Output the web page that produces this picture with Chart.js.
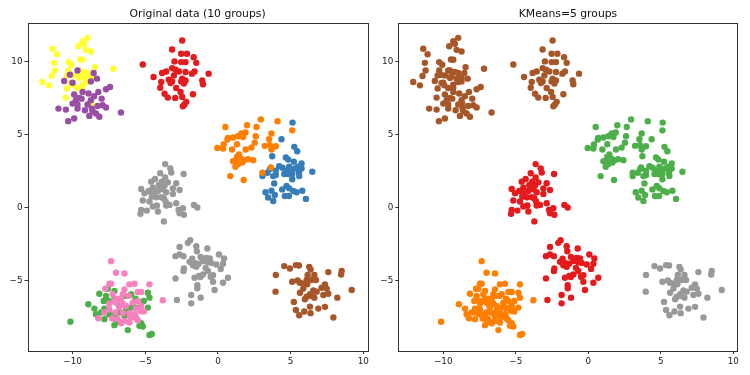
<!DOCTYPE html>
<html lang="en">
<head>
<meta charset="UTF-8">
<title>Original data vs KMeans=5</title>
<script src="https://cdn.jsdelivr.net/npm/chart.js@4.4.1/dist/chart.umd.min.js"></script>
<style>
  body { margin: 0; background: #fff; }
  #wrap { position: relative; width: 750px; height: 375px; }
  canvas { position: absolute; top: 0; }
</style>
</head>
<body>
<div id="wrap">
  <canvas id="left" width="375" height="375" style="left:0"></canvas>
  <canvas id="right" width="375" height="375" style="left:375px"></canvas>
</div>
<script>
// points, one array per original group: [x, y]
const groupYellow = [
  [-8.97, 11.63], [-9.31, 11.40], [-9.20, 11.22], [-9.59, 11.06], [-9.08, 10.81], [-8.74, 10.70],
  [-11.38, 10.88], [-11.08, 10.51], [-9.47, 10.15], [-9.31, 10.13], [-11.27, 9.92], [-10.28, 9.97],
  [-10.07, 9.79], [-8.46, 9.63], [-7.19, 9.52], [-11.22, 9.40], [-10.28, 9.40], [-9.54, 9.40],
  [-11.43, 9.02], [-10.39, 9.06], [-9.89, 9.06], [-9.20, 9.29], [-8.97, 9.22], [-9.54, 8.88],
  [-9.43, 9.02], [-9.08, 8.84], [-8.74, 8.88], [-12.07, 8.61], [-11.61, 8.38], [-10.12, 8.54],
  [-9.93, 8.38], [-9.31, 8.43], [-8.97, 8.61], [-9.66, 8.20], [-10.39, 8.16], [-9.31, 8.22],
  [-10.46, 7.54], [-8.69, 7.13]
];
const groupPurple = [
  [-10.18, 9.11], [-9.66, 9.40], [-8.55, 9.22], [-8.32, 8.84], [-10.58, 8.68], [-10.00, 8.56],
  [-8.74, 8.65], [-7.70, 8.11], [-7.42, 8.27], [-8.23, 7.93], [-9.31, 7.93], [-8.90, 7.82],
  [-9.89, 7.75], [-9.54, 7.52], [-9.77, 7.36], [-9.38, 7.47], [-8.51, 7.63], [-8.74, 7.36],
  [-8.00, 7.47], [-7.93, 7.02], [-8.97, 7.07], [-10.00, 7.13], [-9.66, 7.07], [-8.28, 6.97],
  [-8.67, 6.79], [-7.70, 6.86], [-8.62, 6.61], [-8.85, 6.29], [-8.39, 6.45], [-8.16, 6.23],
  [-10.97, 6.79], [-10.46, 6.72], [-9.66, 6.79], [-6.67, 6.52], [-9.89, 6.11], [-10.30, 5.93],
  [-9.15, 6.68]
];
const groupRed = [
  [-2.46, 11.45], [-3.15, 10.83], [-2.53, 10.54], [-2.13, 10.54], [-1.67, 10.31], [-2.99, 10.02],
  [-2.53, 9.97], [-2.23, 9.97], [-1.49, 9.92], [-5.17, 9.81], [-3.15, 9.56], [-2.92, 9.45],
  [-3.56, 9.33], [-3.84, 9.22], [-2.69, 9.33], [-2.23, 9.29], [-1.61, 9.33], [-1.79, 9.18],
  [-0.64, 9.18], [-4.43, 8.95], [-3.03, 9.06], [-2.46, 8.84], [-3.38, 8.77], [-3.15, 8.65],
  [-2.53, 8.65], [-2.23, 8.72], [-3.90, 8.61], [-3.26, 8.54], [-1.08, 8.72], [-1.03, 8.45],
  [-2.34, 8.50], [-3.97, 8.22], [-2.87, 8.20], [-3.67, 7.81], [-2.57, 7.93], [-1.72, 7.77],
  [-3.45, 7.54], [-2.94, 7.52], [-2.46, 7.59], [-2.18, 7.25], [-2.30, 7.07], [-2.41, 6.95]
];
const groupOrange = [
  [2.95, 6.05], [2.00, 5.65], [4.10, 5.92], [0.51, 5.53], [2.65, 5.53], [5.11, 5.30],
  [1.89, 5.15], [1.61, 5.08], [1.38, 4.90], [0.69, 4.78], [1.04, 4.81], [1.73, 4.85],
  [2.60, 4.90], [3.68, 5.08], [3.52, 4.69], [2.53, 4.46], [0.65, 4.67], [0.39, 4.33],
  [1.31, 4.35], [3.22, 4.24], [3.57, 4.28], [3.98, 4.21], [2.30, 4.12], [-0.04, 4.10],
  [0.35, 4.06], [0.97, 3.99], [1.91, 3.99], [3.68, 3.99], [1.45, 3.65], [1.31, 3.49],
  [1.57, 3.38], [1.38, 3.19], [1.80, 3.26], [2.07, 3.33], [2.42, 3.26], [1.04, 3.19],
  [1.66, 3.10], [1.20, 2.81], [1.38, 2.99], [3.64, 2.76], [3.06, 2.40], [0.85, 2.17],
  [1.77, 1.90]
];
const groupBlue = [
  [5.13, 5.83], [4.37, 4.69], [5.25, 4.17], [5.45, 3.87], [3.73, 3.53], [4.67, 3.44],
  [4.83, 3.31], [5.22, 3.15], [5.75, 3.03], [4.21, 2.85], [4.44, 2.74], [4.90, 2.81],
  [5.52, 2.81], [3.57, 2.65], [3.98, 2.54], [4.72, 2.54], [5.02, 2.54], [5.29, 2.69],
  [5.75, 2.69], [3.41, 2.40], [4.56, 2.31], [4.83, 2.31], [5.11, 2.31], [5.57, 2.40],
  [6.49, 2.47], [3.06, 2.17], [3.80, 2.17], [3.98, 2.24], [5.11, 1.95], [5.59, 2.17],
  [3.87, 1.67], [4.72, 1.49], [4.42, 1.26], [4.90, 1.33], [5.18, 1.15], [5.41, 1.06],
  [5.80, 1.17], [3.27, 1.06], [3.68, 1.17], [3.45, 0.70], [4.60, 0.81], [3.91, 0.88],
  [4.88, 0.81], [6.05, 0.61], [3.80, 0.47]
];
const groupGrayTop = [
  [-3.63, 2.99], [-3.28, 2.70], [-3.21, 2.42], [-2.36, 2.31], [-3.97, 2.36], [-3.63, 2.08],
  [-4.32, 1.97], [-4.59, 1.79], [-3.86, 1.79], [-3.44, 1.74], [-2.87, 1.68], [-4.07, 1.56],
  [-3.67, 1.52], [-4.48, 1.38], [-5.28, 1.29], [-3.79, 1.27], [-3.10, 1.33], [-2.64, 1.22],
  [-4.76, 1.15], [-4.13, 1.15], [-5.05, 0.99], [-4.48, 0.99], [-3.56, 1.06], [-4.55, 0.77],
  [-4.25, 0.72], [-3.90, 0.72], [-3.72, 0.66], [-3.10, 0.95], [-3.60, 0.43], [-5.17, 0.50],
  [-4.71, 0.43], [-2.87, 0.31], [-4.48, 0.09], [-4.20, 0.16], [-3.56, 0.16], [-3.33, 0.20],
  [-5.28, -0.14], [-4.89, -0.19], [-4.13, -0.25], [-2.71, -0.14], [-2.41, -0.03], [-1.65, 0.20],
  [-1.42, 0.02], [-5.33, -0.41], [-2.64, -0.37], [-2.34, -0.48], [-3.72, -0.93]
];
const groupGrayLow = [
  [-1.91, -2.22], [-2.07, -2.40], [-1.49, -2.63], [-2.64, -2.68], [-0.73, -2.79], [-1.45, -2.97],
  [-2.92, -3.31], [-2.64, -3.20], [-2.37, -3.31], [-1.19, -3.36], [-1.77, -3.49], [-0.80, -3.43],
  [-0.57, -3.47], [0.07, -3.20], [0.42, -3.47], [-1.95, -3.70], [-1.61, -3.77], [-1.03, -3.65],
  [-0.69, -3.72], [-1.72, -3.93], [-1.33, -3.83], [-0.46, -3.77], [-0.11, -3.88], [0.35, -3.83],
  [-2.34, -4.15], [-1.49, -4.04], [-0.85, -4.11], [0.19, -4.18], [-2.37, -4.33], [-0.69, -4.33],
  [-1.03, -4.56], [-1.31, -4.67], [-1.61, -4.79], [-1.21, -4.74], [-0.50, -4.72], [-0.34, -4.61],
  [-2.92, -4.83], [0.69, -4.79], [-0.34, -5.06], [0.35, -5.13], [-1.42, -5.29], [-1.42, -5.51],
  [-0.23, -5.63], [-1.84, -5.97], [-1.19, -6.15], [-2.82, -6.31], [-1.84, -6.54]
];
const groupPink = [
  [-7.35, -3.65], [-7.01, -4.45], [-6.43, -4.49], [-7.47, -5.20], [-7.35, -5.20], [-6.09, -5.24],
  [-5.74, -5.20], [-4.71, -5.24], [-7.74, -5.54], [-6.43, -5.58], [-5.51, -5.76], [-5.28, -5.76],
  [-3.79, -6.33], [-7.24, -5.92], [-6.55, -5.92], [-6.13, -6.03], [-6.89, -6.22], [-6.66, -6.31],
  [-7.12, -6.38], [-5.86, -6.49], [-5.51, -6.38], [-7.47, -6.56], [-7.01, -6.49], [-6.55, -6.56],
  [-6.32, -6.72], [-5.28, -6.72], [-6.78, -6.83], [-7.47, -6.94], [-5.63, -6.90], [-5.33, -7.06],
  [-5.10, -7.10], [-7.81, -7.17], [-7.05, -7.17], [-6.55, -7.22], [-6.09, -7.22], [-5.74, -7.28],
  [-8.23, -7.56], [-7.28, -7.58], [-6.89, -7.62], [-6.43, -7.74], [-6.02, -7.51], [-5.63, -7.58],
  [-6.66, -7.90], [-6.09, -7.85], [-5.51, -7.69]
];
const groupGreen = [
  [-8.16, -5.88], [-7.12, -5.69], [-7.58, -5.54], [-8.92, -6.60], [-7.70, -6.03], [-7.51, -6.38],
  [-7.12, -6.22], [-6.43, -6.03], [-5.97, -5.92], [-4.82, -5.81], [-4.71, -6.15], [-5.10, -6.38],
  [-5.67, -6.22], [-7.86, -6.38], [-7.81, -6.90], [-7.63, -7.06], [-6.82, -6.67], [-6.32, -7.01],
  [-5.97, -6.83], [-8.50, -6.90], [-8.04, -7.17], [-8.39, -7.28], [-7.51, -7.28], [-7.12, -7.28],
  [-6.78, -7.17], [-6.43, -7.40], [-7.01, -7.62], [-5.63, -6.83], [-4.82, -6.83], [-5.70, -7.40],
  [-5.40, -8.08], [-5.17, -8.12], [-5.28, -7.90], [-7.12, -8.03], [-6.82, -7.80], [-7.81, -7.62],
  [-6.20, -8.37], [-4.71, -8.71], [-4.55, -8.64], [-10.15, -7.80]
];
const groupBrown = [
  [4.56, -3.99], [4.95, -4.15], [5.36, -3.92], [5.57, -3.95], [6.28, -4.04], [6.37, -4.22],
  [3.98, -4.60], [6.17, -4.60], [6.63, -4.60], [7.59, -4.40], [8.51, -4.33], [8.47, -4.56],
  [6.10, -4.94], [6.44, -4.94], [6.74, -4.94], [5.11, -5.06], [5.48, -4.97], [5.64, -5.13],
  [5.91, -5.19], [6.14, -5.24], [7.36, -5.24], [5.87, -5.53], [7.13, -5.47], [7.48, -5.53],
  [3.96, -5.74], [6.56, -5.65], [6.79, -5.74], [7.59, -5.88], [9.20, -5.63], [5.64, -5.81],
  [6.33, -5.92], [7.25, -5.97], [6.10, -6.08], [6.44, -6.03], [6.63, -6.15], [5.98, -6.26],
  [8.21, -6.15], [5.22, -6.44], [6.33, -6.76], [6.90, -6.90], [7.36, -6.78], [5.36, -6.99],
  [5.94, -7.10], [6.37, -7.21], [5.59, -7.35], [7.94, -7.51]
];

const groups = [groupPurple, groupYellow, groupRed, groupOrange, groupBlue,
                groupGrayTop, groupGrayLow, groupPink, groupGreen, groupBrown];
// KMeans cluster each original group ended up in
const kmeansLabel = [0, 0, 0, 1, 1, 2, 2, 3, 3, 4];
const xTicks = [-10, -5, 0, 5, 10];
const yTicks = [-5, 0, 5, 10];

// Set1 colours
const origColors = ['#984ea3', '#ffff33', '#e41a1c', '#ff7f00', '#377eb8',
                    '#999999', '#999999', '#f781bf', '#4daf4a', '#a65628'];
const kmeansColors = ['#a65628', '#4daf4a', '#e41a1c', '#ff7f00', '#999999'];

const FONT = 'DejaVu Sans';
const fmt = v => String(v).replace('-', '\u2212');

// matplotlib style box round the axes
const frame = {
  id: 'frame',
  afterDraw(chart) {
    const a = chart.chartArea, c = chart.ctx;
    c.save();
    c.strokeStyle = '#333';
    c.lineWidth = 1;
    c.strokeRect(Math.round(a.left) + 0.5, Math.round(a.top) + 0.5,
                 Math.round(a.right - a.left), Math.round(a.bottom - a.top));
    c.restore();
  }
};

function makeChart(id, title, colorOf, yWidth, padRight) {
  const datasets = groups.map((pts, i) => ({
    data: pts.map(p => ({ x: p[0], y: p[1] })),
    backgroundColor: colorOf(i),
    borderWidth: 0,
    pointRadius: 3.2,
    pointHoverRadius: 3.2
  }));
  const axis = (ticks, afterFit) => ({
    type: 'linear',
    afterFit,
    afterBuildTicks: s => { s.ticks = ticks.map(v => ({ value: v })); },
    grid: { display: true, drawOnChartArea: false, drawTicks: true, tickLength: 3, color: '#333' },
    border: { display: false },
    ticks: { color: '#222', padding: 2, maxRotation: 0, font: { family: FONT, size: 8.8 }, callback: fmt }
  });
  const x = axis(xTicks, s => { s.height = 24; });
  x.min = -13.1; x.max = 10.3;
  const y = axis(yTicks, s => { s.width = yWidth; });
  y.min = -9.8; y.max = 12.67;

  new Chart(document.getElementById(id), {
    type: 'scatter',
    data: { datasets },
    options: {
      responsive: false,
      animation: false,
      layout: { padding: { left: 0, right: padRight, top: 0, bottom: 0 } },
      plugins: {
        legend: { display: false },
        tooltip: { enabled: false },
        title: {
          display: true, text: title, fullSize: false, color: '#111',
          font: { family: FONT, size: 10.8, weight: 'normal' },
          padding: { top: 8, bottom: 1.7 }
        }
      },
      scales: { x, y }
    },
    plugins: [frame]
  });
}

makeChart('left', 'Original data (10 groups)', i => origColors[i], 27.5, 7.3);
makeChart('right', 'KMeans=5 groups', i => kmeansColors[kmeansLabel[i]], 23.3, 12.3);
</script>
</body>
</html>
